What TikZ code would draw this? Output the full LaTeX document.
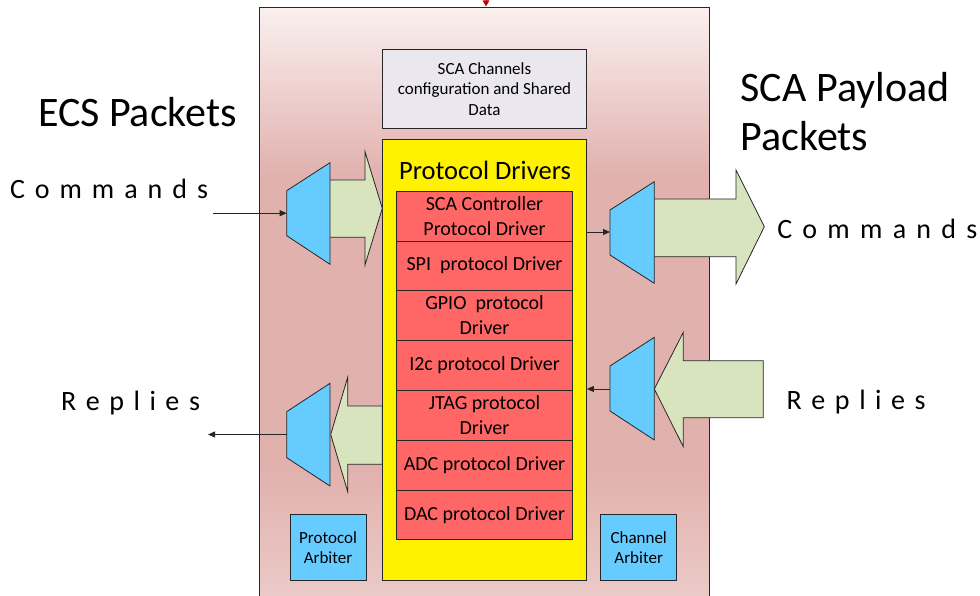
\documentclass[tikz,border=0pt]{standalone}
\usepackage{fontspec}
\setmainfont{Carlito}
\usetikzlibrary{arrows.meta}
\definecolor{pinkA}{HTML}{FAF0EF}
\definecolor{pinkM}{HTML}{E1B1AE}
\definecolor{pinkB}{HTML}{EBCAC7}
\definecolor{grayfill}{HTML}{EAE7EE}
\definecolor{drvred}{HTML}{FF6666}
\definecolor{muxblue}{HTML}{66CCFF}
\definecolor{arrowgreen}{HTML}{D7E4BD}
\definecolor{edge}{HTML}{262626}
\definecolor{feedred}{HTML}{C00000}
\newcommand\spreadtext[2]{\makebox[#1][s]{#2}}
\begin{document}
\begin{tikzpicture}[x=1pt,y=-1pt,
  outline/.style={draw=edge, line width=0.8pt},
  txt/.style={inner sep=0pt, outer sep=0pt, text=black},
  drv/.style={outline, fill=drvred, minimum width=175.6pt, minimum height=50pt, inner sep=0pt, align=center, font=\fontsize{20}{24.4}\selectfont},
  arb/.style={outline, fill=muxblue, minimum width=76pt, minimum height=65.7pt, inner sep=0pt, align=center, font=\fontsize{17}{20}\selectfont},
  mux/.style={outline, fill=muxblue, line join=miter},
  bigarrow/.style={outline, fill=arrowgreen, line join=miter},
  conn/.style={line width=0.8pt, draw=edge, -{Triangle[length=7pt,width=6pt]}},
  big/.style={txt, font=\fontsize{42}{51}\selectfont, anchor=base west},
  spaced/.style={txt, font=\fontsize{28}{34}\selectfont, anchor=base west}
]
\useasboundingbox (0,0) rectangle (980,596);
\clip (0,0) rectangle (980,596);

% main block background
\fill[top color=pinkA, bottom color=pinkM] (259.3,7.5) rectangle (709,176);
\fill[pinkM] (259.3,175.5) rectangle (709,470.5);
\fill[top color=pinkM, bottom color=pinkB] (259.3,470) rectangle (709,597);
\draw[outline] (259.3,600) -- (259.3,7.5) -- (709,7.5) -- (709,600);

% incoming red arrow at top
\coordinate (feedTop) at (486,-15);
\coordinate (feedEnd) at (486,6.5);
\draw[line width=1pt, draw=feedred, -{Triangle[length=6pt,width=6.5pt]}, fill=feedred] (feedTop) -- (feedEnd);

% big green arrows
\draw[bigarrow] (325,180) -- (365,180) -- (365,151.7) -- (382.3,208.3) -- (365,265) -- (365,237.3) -- (325,237.3) -- cycle;
\draw[bigarrow] (650,199) -- (736,199) -- (736,170) -- (764.3,226.7) -- (736,284) -- (736,256.7) -- (650,256.7) -- cycle;
\draw[bigarrow] (654.3,389) -- (683.3,332.3) -- (683.3,360.7) -- (763.3,360.7) -- (763.3,417.7) -- (683.3,417.7) -- (683.3,446.7) -- cycle;
\draw[bigarrow] (330.7,434.5) -- (347.7,377.3) -- (347.7,406) -- (382.3,406) -- (382.3,464.3) -- (347.7,464.3) -- (347.7,491.7) -- cycle;

% multiplexers
\draw[mux] (286.7,190.7) -- (330,162.7) -- (330,264.3) -- (286.7,235.7) -- cycle;
\draw[mux] (610,210) -- (654.3,181.7) -- (654.3,283.3) -- (610,255) -- cycle;
\draw[mux] (610,366) -- (654.3,337.3) -- (654.3,440) -- (610,411) -- cycle;
\draw[mux] (286.7,411.7) -- (330,383.3) -- (330,486) -- (286.7,457.7) -- cycle;

% shared data box
\node[outline, fill=grayfill, minimum width=204.4pt, minimum height=78.7pt, inner sep=0pt, align=center, font=\fontsize{17}{20.5}\selectfont] (shared) at (484.5,88.7) {SCA Channels\\configuration and Shared\\Data};

% protocol drivers container
\node[outline, fill=yellow, minimum width=204.2pt, minimum height=441pt, inner sep=0pt] (drivers) at (484.4,359.5) {};
\node[txt, anchor=base, font=\fontsize{26.5}{31}\selectfont] (pdlabel) at (485,180) {Protocol Drivers};

% driver rows
\node[drv] (scad) at (484.5,216) {SCA Controller\\Protocol Driver};
\node[drv, minimum height=49pt] (spid) at (484.5,265.5) {SPI\ \ protocol Driver};
\node[drv] (gpiod) at (484.5,315) {GPIO\ \ protocol\\Driver};
\node[drv] (i2cd) at (484.5,365) {I2c protocol Driver};
\node[drv] (jtagd) at (484.5,415) {JTAG protocol\\Driver};
\node[drv] (adcd) at (484.5,465) {ADC protocol Driver};
\node[drv, minimum height=49.5pt] (dacd) at (484.5,514.75) {DAC protocol Driver};

% arbiters
\node[arb] (parb) at (328,547.2) {Protocol\\Arbiter};
\node[arb] (carb) at (638.7,547.2) {Channel\\Arbiter};

% connectors
\coordinate (cmdL) at (213,213.2);
\coordinate (tlIn) at (286.7,213.2);
\draw[conn] (cmdL) -- (tlIn);
\coordinate (trIn) at (610,232);
\draw[conn] (drivers.east |- trIn) -- (trIn);
\coordinate (brOut) at (610,389);
\draw[conn] (brOut) -- (drivers.east |- brOut);
\coordinate (blOut) at (286.7,434.5);
\coordinate (repL) at (208,434.5);
\draw[conn] (blOut) -- (repL);

% labels
\node[big] (ecs) at (38,126.7) {ECS Packets};
\node[big] (pay1) at (740.7,101.7) {SCA Payload};
\node[big] (pay2) at (740.7,150.7) {Packets};
\node[spaced] (cmdl) at (10,198.3) {\spreadtext{198pt}{C\hfill o\hfill m\hfill m\hfill a\hfill n\hfill d\hfill s}};
\node[spaced] (repl) at (61,410) {\spreadtext{139pt}{R\hfill e\hfill p\hfill l\hfill i\hfill e\hfill s}};
\node[spaced] (cmdr) at (777.3,238.5) {\spreadtext{200pt}{C\hfill o\hfill m\hfill m\hfill a\hfill n\hfill d\hfill s}};
\node[spaced] (repr) at (786.7,409) {\spreadtext{139pt}{R\hfill e\hfill p\hfill l\hfill i\hfill e\hfill s}};
\end{tikzpicture}
\end{document}
